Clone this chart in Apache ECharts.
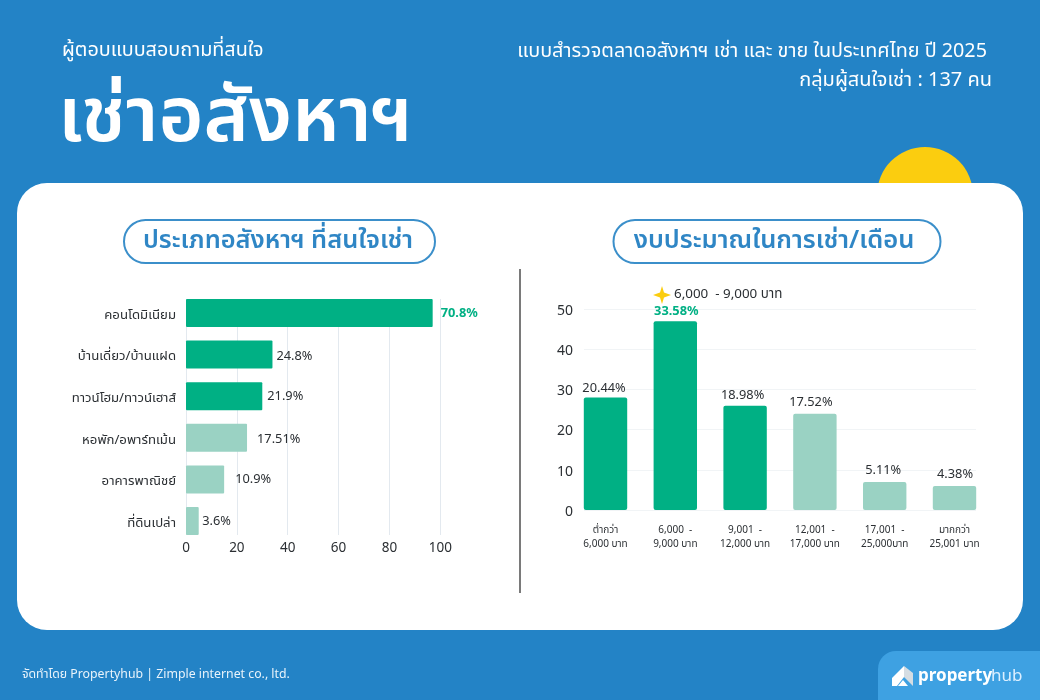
<!DOCTYPE html>
<html><head><meta charset="utf-8">
<script src="https://cdn.jsdelivr.net/npm/echarts@6/dist/echarts.min.js"></script>
<style>html,body{margin:0;padding:0;background:#2383c6}#c{width:1040px;height:700px}</style>
</head><body><div id="c"></div>
<script>
const FONT = "'Noto Sans','Noto Sans Thai',sans-serif";
const typeCategories = ['คอนโดมิเนียม','บ้านเดี่ยว/บ้านแฝด','ทาวน์โฮม/ทาวน์เฮาส์','หอพัก/อพาร์ทเม้น','อาคารพาณิชย์','ที่ดินเปล่า'];
const typeValues = [97,34,30,24,15,5];
const typeLabels = ['70.8%','24.8%','21.9%','17.51%','10.9%','3.6%'];
const budgetCategories = ['ต่ำกว่า\n6,000 บาท','6,000  -\n9,000 บาท','9,001  -\n12,000 บาท','12,001  -\n17,000 บาท','17,001  -\n25,000บาท','มากกว่า\n25,001 บาท'];
const budgetValues = [28,47,26,24,7,6];
const budgetLabels = ['20.44%','33.58%','18.98%','17.52%','5.11%','4.38%'];
const xTicks = {min:0,max:100,interval:20};
const yTicks = {min:0,max:50,interval:10};

const DARK='#00b084', LIGHT='#9ad2c3', TXT='#2b2f33';
const typeDark=3, budgetDark=3;
const typeLabelGap=[8,4,5,10,11,3.5];
const typeLabelDy=[0,2,0,2,0,0.5];
const budgetLabelDx=[-1.5,1,-2.5,-4,-1.5,0.5];
const budgetLabelGap=[3,3,4,4.5,5,5];

const chart = echarts.init(document.getElementById('c'),null,{renderer:'canvas'});
const txt=(x,y,text,size,color,weight,align)=>({type:'text',x,y,silent:true,style:{text,fontFamily:FONT,fontSize:size,fontWeight:weight||'normal',fill:color,textAlign:align||'left',textVerticalAlign:'middle'}});
const poly=(points,fill)=>({type:'polygon',z:5,silent:true,shape:{points},style:{fill}});

chart.setOption({
  animation:false,
  backgroundColor:'#2383c6',
  textStyle:{fontFamily:FONT},
  graphic:[
    {type:'circle',z:-10,silent:true,shape:{cx:925,cy:195,r:48},style:{fill:'#fbcd0f'}},
    {type:'rect',z:-9,silent:true,shape:{x:17,y:183,width:1006,height:447,r:30},style:{fill:'#fff'}},
    {type:'rect',z:-8,silent:true,shape:{x:878,y:651,width:190,height:90,r:18},style:{fill:'#3ea1e2'}},
    {type:'rect',z:-8,silent:true,shape:{x:124,y:220,width:311,height:43,r:21.5},style:{fill:'#fff',stroke:'#3b8fca',lineWidth:2}},
    {type:'rect',z:-8,silent:true,shape:{x:613.5,y:220,width:327,height:43,r:21.5},style:{fill:'#fff',stroke:'#3b8fca',lineWidth:2}},
    {type:'line',z:-8,silent:true,shape:{x1:520,y1:269,x2:520,y2:593},style:{stroke:'#7a7a7a',lineWidth:2}},
    poly([[662,286],[664,292.5],[671,295],[664,297.5],[662,304],[660,297.5],[653,295],[660,292.5]],'#fbcd0f'),
    poly([[904,666],[892,678],[892,686],[897,686],[904,677]],'#fff'),
    poly([[904,666],[913,673],[913,686],[904,677]],'#d5dde3'),
    poly([[903,680],[908,686],[898,686]],'#fff'),
    txt(62,50,'ผู้ตอบแบบสอบถามที่สนใจ',19.8,'#fff'),
    txt(58,119,'เช่าอสังหาฯ',77,'#fff',600),
    txt(987,51,'แบบสำรวจตลาดอสังหาฯ เช่า และ ขาย ในประเทศไทย ปี 2025',19.8,'#fff','normal','right'),
    txt(992,80,'กลุ่มผู้สนใจเช่า : 137 คน',20,'#fff','normal','right'),
    txt(278,241,'ประเภทอสังหาฯ ที่สนใจเช่า',25.4,'#2f86c5',600,'center'),
    txt(774,241,'งบประมาณในการเช่า/เดือน',25.5,'#2f86c5',600,'center'),
    txt(674,294.5,'6,000  - 9,000 บาท',13.4,TXT),
    txt(22,674.5,'จัดทำโดย Propertyhub | Zimple internet co., ltd.',12.3,'#e8f3fb'),
    txt(918,676,'property',17,'#fff','bold'),
    txt(991,676,'hub',17,'#dcefff')
  ],
  grid:[
    {left:186,width:254.3,top:292.2,height:249.6},
    {left:186,width:254.3,top:299,height:236},
    {left:570.6,width:418.8,top:309.3,height:200.7},
    {left:584,width:392,top:309.3,height:200.7}
  ],
  xAxis:[
    {gridIndex:0,type:'value',...xTicks,show:false},
    {gridIndex:1,type:'value',...xTicks,axisLine:{show:false},axisTick:{show:false},
      axisLabel:{color:TXT,fontSize:13.5,margin:6,fontFamily:FONT,hideOverlap:false},splitLine:{show:true,lineStyle:{color:'#e3e9ef',width:1}}},
    {gridIndex:2,type:'category',data:budgetCategories,axisLine:{show:false},axisTick:{show:false},
      axisLabel:{color:TXT,fontSize:10,lineHeight:14,margin:13,interval:0,fontFamily:FONT}},
    {gridIndex:3,type:'category',data:budgetCategories,show:false}
  ],
  yAxis:[
    {gridIndex:0,type:'category',inverse:true,data:typeCategories,axisLine:{show:false},axisTick:{show:false},
      axisLabel:{color:TXT,fontSize:13.2,margin:10,interval:0,fontFamily:FONT,verticalAlign:'top',lineHeight:4}},
    {gridIndex:1,type:'category',inverse:true,data:typeCategories,show:false},
    {gridIndex:2,type:'value',...yTicks,show:false},
    {gridIndex:3,type:'value',...yTicks,axisLine:{show:false},axisTick:{show:false},
      axisLabel:{color:TXT,fontSize:14,margin:11,fontFamily:FONT,verticalAlign:'top',lineHeight:3.4},splitLine:{show:true,lineStyle:{color:'#f1f4f6',width:1}}}
  ],
  series:[
    {type:'bar',xAxisIndex:0,yAxisIndex:0,barWidth:28,silent:true,
      data:typeValues.map((v,i)=>({value:v,
        itemStyle:{color:i<typeDark?DARK:LIGHT,borderRadius:1},
        label:{show:true,position:'right',distance:typeLabelGap[i],offset:[0,typeLabelDy[i]],formatter:typeLabels[i],fontFamily:FONT,fontSize:12.8,
          color:i===0?DARK:TXT,fontWeight:i===0?'bold':'normal'}}))},
    {type:'bar',xAxisIndex:2,yAxisIndex:2,barWidth:43.4,silent:true,
      data:budgetValues.map((v,i)=>({value:v,
        itemStyle:{color:i<budgetDark?DARK:LIGHT,borderRadius:2},
        label:{show:true,position:'top',distance:budgetLabelGap[i],offset:[budgetLabelDx[i],0],formatter:budgetLabels[i],fontFamily:FONT,fontSize:12.8,
          color:i===1?DARK:TXT,fontWeight:i===1?'bold':'normal'}}))}
  ]
});
</script></body></html>
